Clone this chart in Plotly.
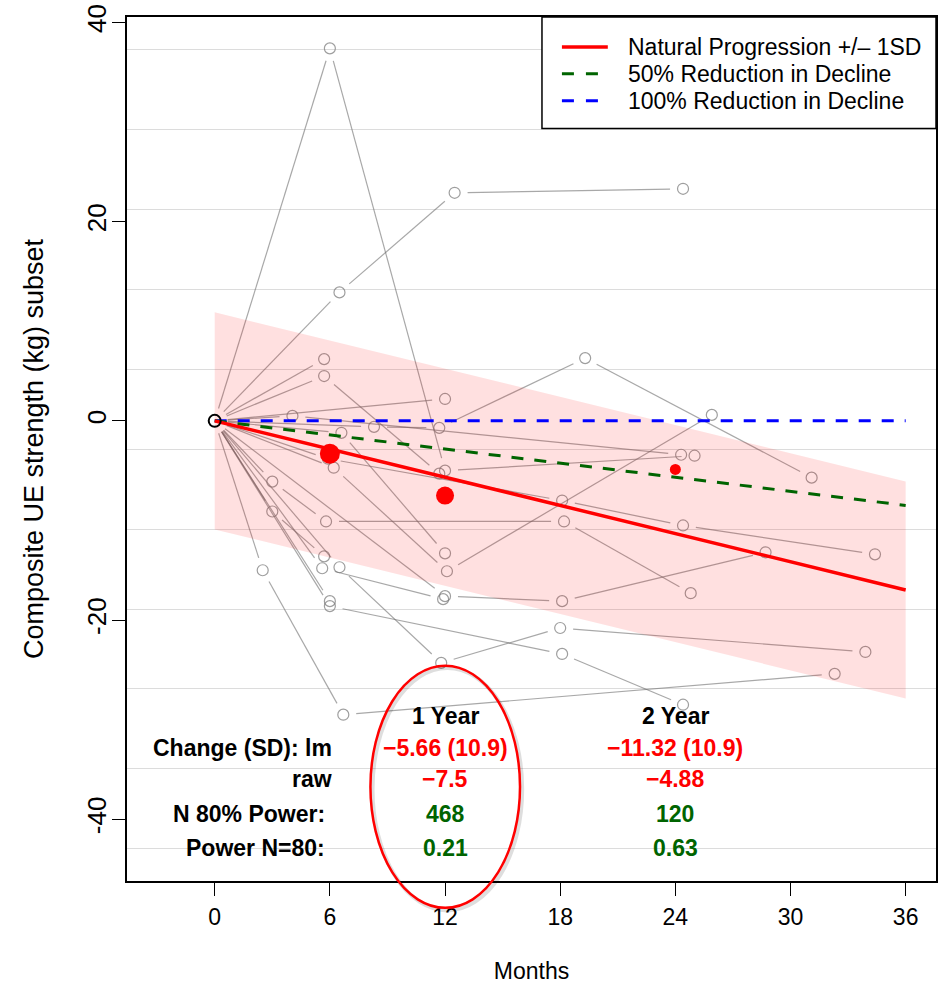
import math
import plotly.graph_objects as go

# ---------------- data ----------------
month_ticks = [0, 6, 12, 18, 24, 30, 36]
y_ticks = [40, 20, 0, -20, -40]
y_tick_labels = ["40", "20", "0", "-20", "-40"]

subj_t = [
    [0, 6.0, 12.0, 25.0],
    [0, 6.5, 12.5, 24.4],
    [0, 5.7],
    [0, 5.7, 11.7],
    [0, 6.2, 12.1, 25.9],
    [0, 4.05, 24.3],
    [0, 8.3, 11.7, 19.3, 31.1],
    [0, 12.0],
    [0, 5.9, 18.1, 24.4, 34.4],
    [0, 3.0, 5.8, 18.2, 24.8],
    [0, 3.0, 5.7],
    [0, 6.6, 12.0],
    [0, 12.0, 18.1, 28.7],
    [0, 5.6, 11.9],
    [0, 6.0],
    [0, 6.0, 18.1, 24.4],
    [0, 2.5, 6.7, 32.3],
    [0, 6.5, 11.8, 18.0, 33.9],
]
subj_y = [
    [0, 37.4, -5.0, -3.5],
    [0, 12.9, 22.9, 23.3],
    [0, 6.2],
    [0, 4.5, -5.3],
    [0, -4.7, -15.1, 0.6],
    [0, 0.5, -3.4],
    [0, -0.6, -0.7, 6.3, -5.7],
    [0, 2.2],
    [0, -3.8, -8.0, -10.5, -13.4],
    [0, -6.1, -10.1, -10.1, -17.3],
    [0, -9.1, -13.6],
    [0, -1.2, -13.3],
    [0, -17.6, -18.1, -13.2],
    [0, -14.8, -17.9],
    [0, -18.1],
    [0, -18.6, -23.4, -28.5],
    [0, -15.0, -29.5, -25.4],
    [0, -14.7, -24.3, -20.8, -23.2],
]

mean_t = [6, 12, 24]
mean_y = [-3.3, -7.5, -4.88]
mean_size = [20, 18, 11]

proj_t = [0, 36]
natural_y = [0, -16.98]
half_y = [0, -8.49]
full_y = [0, 0]
band_upper = [10.9, -6.08]
band_lower = [-10.9, -27.88]

legend_names = ["Natural Progression +/\u2013 1SD", "50% Reduction in Decline", "100% Reduction in Decline"]

year_labels = ["1 Year", "2 Year"]
year_x = [12, 24]
change_lm = ["\u22125.66 (10.9)", "\u221211.32 (10.9)"]
change_raw = ["\u22127.5", "\u22124.88"]
n_80_power = ["468", "120"]
power_n80 = ["0.21", "0.63"]
row_labels = ["Change (SD): lm", "raw", "N 80% Power:", "Power N=80:"]
row_y = [-32.8, -36.0, -39.5, -42.9]
header_y = -29.6
label_x = [6.2, 6.2, 5.85, 5.85]

grid_tick0 = 5.2
grid_step = 8.03

# ---------------- layout constants ----------------
W, H = 942, 993
ML, MR, MT, MB = 127, 4, 14, 112
XR = [-4.57, 37.58]
YR = [-46.2, 40.55]
PW, PH = W - ML - MR, H - MT - MB
SX = PW / (XR[1] - XR[0])
SY = PH / (YR[1] - YR[0])
GAP = 13.0  # px gap around points (R type="b")

FONT = "Liberation Sans, Arial, Helvetica, sans-serif"
RED = "#FF0000"
GREEN = "#006400"
BLUE = "#0000FF"
GRAY_LINE = "rgba(110,110,110,0.6)"
GRAY_MK = "rgba(120,120,120,0.72)"


def gapped(ts, ys):
    xs_out, ys_out = [], []
    for i in range(len(ts) - 1):
        dx = (ts[i + 1] - ts[i]) * SX
        dy = (ys[i + 1] - ys[i]) * SY
        L = math.hypot(dx, dy)
        if L <= 2 * GAP:
            continue
        f = GAP / L
        xs_out += [ts[i] + f * (ts[i + 1] - ts[i]), ts[i + 1] - f * (ts[i + 1] - ts[i]), None]
        ys_out += [ys[i] + f * (ys[i + 1] - ys[i]), ys[i + 1] - f * (ys[i + 1] - ys[i]), None]
    return xs_out, ys_out


fig = go.Figure()

# gridline carrier on overlay axis
fig.add_trace(go.Scatter(x=[None], y=[None], yaxis="y2", showlegend=False, hoverinfo="skip"))

# subject trajectories (lines with gaps, then open circles)
lx, ly = [], []
for t, y in zip(subj_t, subj_y):
    a, b = gapped(t, y)
    lx += a
    ly += b
fig.add_trace(go.Scatter(x=lx, y=ly, mode="lines", line=dict(color=GRAY_LINE, width=1.2),
                         showlegend=False, hoverinfo="skip"))
mx, my = [], []
for t, y in zip(subj_t, subj_y):
    mx += t[1:]
    my += y[1:]
fig.add_trace(go.Scatter(x=mx, y=my, mode="markers",
                         marker=dict(symbol="circle-open", size=11, color=GRAY_MK, line=dict(width=1.2)),
                         showlegend=False, hoverinfo="skip"))

# band
fig.add_trace(go.Scatter(
    x=proj_t + proj_t[::-1], y=band_upper + band_lower[::-1],
    fill="toself", fillcolor="rgba(255,0,0,0.12)", line=dict(width=0),
    mode="lines", showlegend=False, hoverinfo="skip"))

# projection lines
fig.add_trace(go.Scatter(x=proj_t, y=full_y, mode="lines", name=legend_names[2], showlegend=False,
                         line=dict(color=BLUE, width=3, dash="12px,11px")))
fig.add_trace(go.Scatter(x=proj_t, y=half_y, mode="lines", name=legend_names[1], showlegend=False,
                         line=dict(color=GREEN, width=3, dash="12px,11px")))
fig.add_trace(go.Scatter(x=proj_t, y=natural_y, mode="lines", name=legend_names[0], showlegend=False,
                         line=dict(color=RED, width=3.5)))

# means
fig.add_trace(go.Scatter(x=mean_t, y=mean_y, mode="markers",
                         marker=dict(color=RED, size=mean_size, opacity=1, line=dict(width=0)),
                         showlegend=False, hoverinfo="skip"))
# origin
fig.add_trace(go.Scatter(x=[subj_t[0][0]], y=[subj_y[0][0]], mode="markers",
                         marker=dict(symbol="circle-open", size=12, color="black", line=dict(width=2)),
                         showlegend=False, hoverinfo="skip"))

# ---------------- table text ----------------
ann = []
for i, yl in enumerate(year_labels):
    ann.append(dict(x=year_x[i], y=header_y, text="<b>%s</b>" % yl, showarrow=False,
                    font=dict(color="black", size=23, family=FONT), xanchor="center", yanchor="middle"))
    vals = [change_lm[i], change_raw[i], n_80_power[i], power_n80[i]]
    cols = [RED, RED, GREEN, GREEN]
    for v, c, yy in zip(vals, cols, row_y):
        ann.append(dict(x=year_x[i], y=yy, text="<b>%s</b>" % v, showarrow=False,
                        font=dict(color=c, size=23, family=FONT), xanchor="center", yanchor="middle"))
for lab, yy, xx in zip(row_labels, row_y, label_x):
    ann.append(dict(x=xx, y=yy, text="<b>%s</b>" % lab, showarrow=False,
                    font=dict(color="black", size=23, family=FONT), xanchor="right", yanchor="middle"))


def px_x(p):
    return (p - ML) / PW


def px_y(p):
    return (H - MB - p) / PH


# ---------------- legend (drawn box) ----------------
shapes = []
shapes.append(dict(type="rect", xref="paper", yref="paper", x0=px_x(543), x1=px_x(938),
                   y0=px_y(126), y1=px_y(14), fillcolor="white",
                   line=dict(color="black", width=1.5), layer="above"))
leg_rows = [44, 71, 98]
leg_colors = [RED, GREEN, BLUE]
leg_dash = ["solid", "12px,12px", "12px,12px"]
leg_w = [3.5, 3, 3]
for name, row, col, da, lw in zip(legend_names, leg_rows, leg_colors, leg_dash, leg_w):
    shapes.append(dict(type="line", xref="paper", yref="paper", x0=px_x(563), x1=px_x(609),
                       y0=px_y(row), y1=px_y(row), line=dict(color=col, width=lw, dash=da), layer="above"))
    ann.append(dict(x=px_x(627), y=px_y(row), xref="paper", yref="paper", text=name, showarrow=False,
                    font=dict(color="black", size=23, family=FONT), xanchor="left", yanchor="middle"))

# ellipse highlight (paper coords)
shapes += [
    dict(type="circle", xref="paper", yref="paper", x0=0.3035, x1=0.4885, y0=-0.034, y1=0.2465,
         line=dict(color="rgba(0,0,0,0.13)", width=4), layer="above"),
    dict(type="circle", xref="paper", yref="paper", x0=0.3009, x1=0.4858, y0=-0.0311, y1=0.2491,
         line=dict(color=RED, width=2.5), layer="above"),
]

fig.update_layout(
    width=W, height=H,
    margin=dict(l=ML, r=MR, t=MT, b=MB),
    paper_bgcolor="white", plot_bgcolor="white",
    font=dict(family=FONT, size=23, color="black"),
    annotations=ann, shapes=shapes, showlegend=False,
    xaxis=dict(range=XR, tickvals=month_ticks, ticks="outside", ticklen=13,
               tickwidth=1.2, tickcolor="black", showline=True, mirror=True, linecolor="black",
               linewidth=1.5, showgrid=False, zeroline=False, ticklabelstandoff=2,
               tickfont=dict(size=23, family=FONT),
               title=dict(text="Months", standoff=34, font=dict(size=23, family=FONT))),
    yaxis=dict(range=YR, tickvals=y_ticks, ticktext=y_tick_labels, ticks="outside",
               ticklen=13, tickwidth=1.2, tickcolor="black", showline=True, mirror=True,
               linecolor="black", linewidth=1.5, showgrid=False, zeroline=False, tickangle=-90,
               tickfont=dict(size=26, family=FONT), ticklabelstandoff=-4,
               title=dict(text="Composite UE strength (kg) subset", standoff=30,
                          font=dict(size=27, family=FONT))),
    yaxis2=dict(range=YR, overlaying="y", tick0=grid_tick0, dtick=grid_step,
                showgrid=True, gridcolor="#DCDCDC", gridwidth=1.2, showticklabels=False,
                ticks="", zeroline=False, showline=False, side="left"),
)

fig.write_html("out.html")
